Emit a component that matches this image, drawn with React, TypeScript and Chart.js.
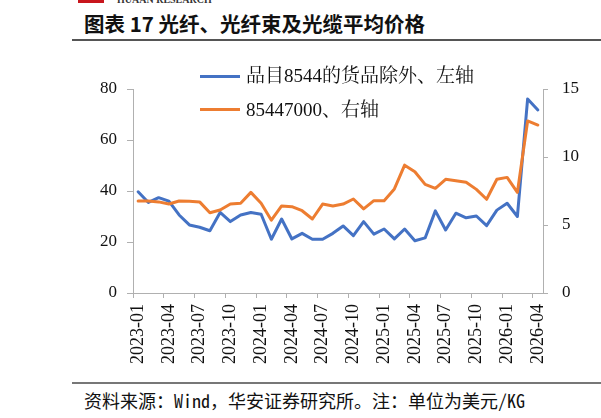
import React, { useEffect, useRef } from "react";
import { Chart, registerables } from "chart.js";

Chart.register(...registerables);

// Monthly categories
const months = [
  "2023-01", "2023-02", "2023-03", "2023-04", "2023-05", "2023-06", "2023-07", "2023-08",
  "2023-09", "2023-10", "2023-11", "2023-12", "2024-01", "2024-02", "2024-03", "2024-04",
  "2024-05", "2024-06", "2024-07", "2024-08", "2024-09", "2024-10", "2024-11", "2024-12",
  "2025-01", "2025-02", "2025-03", "2025-04", "2025-05", "2025-06", "2025-07", "2025-08",
  "2025-09", "2025-10", "2025-11", "2025-12", "2026-01", "2026-02", "2026-03", "2026-04",
];

// 品目8544的货品除外 (left axis, USD/KG)
const excl8544 = [
  39.7, 35.5, 37.4, 36.0, 30.6, 26.7, 25.8, 24.4, 31.6, 28.0,
  30.6, 31.6, 30.9, 21.1, 29.0, 21.2, 23.4, 21.1, 21.1, 23.4,
  26.3, 22.5, 28.0, 23.1, 25.1, 21.2, 25.1, 20.5, 21.6, 32.2,
  24.7, 31.3, 29.5, 30.2, 26.4, 32.5, 35.2, 30.0, 76.1, 71.8,
];

// 85447000 (right axis, USD/KG)
const code85447000 = [
  6.76, 6.76, 6.70, 6.54, 6.76, 6.74, 6.70, 5.90, 6.10, 6.54,
  6.60, 7.40, 6.60, 5.35, 6.40, 6.35, 6.05, 5.44, 6.54, 6.40,
  6.54, 6.91, 6.18, 6.79, 6.79, 7.65, 9.40, 8.92, 7.99, 7.70,
  8.36, 8.26, 8.14, 7.62, 6.89, 8.36, 8.50, 7.40, 12.65, 12.35,
];

const leftTicks = [0, 20, 40, 60, 80];
const rightTicks = [0, 5, 10, 15];

const seriesNames = ["品目8544的货品除外、左轴", "85447000、右轴"];
const BLUE = "#4472C4";
const ORANGE = "#ED7D31";
const AXIS = "#b0b0b0";
const TICK_FONT = "'Liberation Serif', 'Times New Roman', serif";

export default function App() {
  const canvasRef = useRef<HTMLCanvasElement | null>(null);

  useEffect(() => {
    const canvas = canvasRef.current;
    if (!canvas) return;
    const chart = new Chart(canvas, {
      type: "line",
      data: {
        labels: months,
        datasets: [
          {
            label: seriesNames[0],
            data: excl8544,
            yAxisID: "yLeft",
            borderColor: BLUE,
            borderWidth: 3,
            pointRadius: 0,
            tension: 0,
            borderJoinStyle: "round",
            borderCapStyle: "round",
            order: 1,
          },
          {
            label: seriesNames[1],
            data: code85447000,
            yAxisID: "yRight",
            borderColor: ORANGE,
            borderWidth: 3,
            pointRadius: 0,
            tension: 0,
            borderJoinStyle: "round",
            borderCapStyle: "round",
            order: 0,
          },
        ],
      },
      options: {
        responsive: false,
        animation: false,
        devicePixelRatio: 1,
        layout: { padding: { top: 29, left: 0, right: 0, bottom: 0 } },
        plugins: { legend: { display: false }, tooltip: { enabled: false } },
        scales: {
          x: {
            type: "category",
            offset: true,
            afterFit: (s: any) => { s.height = 87; },
            border: { display: true, color: AXIS, width: 1 },
            grid: {
              offset: true,
              drawOnChartArea: false,
              drawTicks: true,
              tickLength: 5,
              color: (ctx: any) => (ctx.index % 3 === 0 ? AXIS : "rgba(0,0,0,0)"),
            },
            ticks: {
              autoSkip: false,
              minRotation: 90,
              maxRotation: 90,
              padding: 6,
              color: "#111",
              font: { family: TICK_FONT, size: 18 },
              callback: (_v: any, i: number) => (i % 3 === 0 ? months[i] : ""),
            },
          },
          yLeft: {
            position: "left",
            min: leftTicks[0],
            max: leftTicks[leftTicks.length - 1],
            afterFit: (s: any) => { s.width = 133; },
            border: { display: true, color: AXIS, width: 1 },
            grid: { drawOnChartArea: false, drawTicks: true, tickLength: 6, color: AXIS },
            ticks: {
              stepSize: leftTicks[1] - leftTicks[0],
              padding: 10,
              color: "#111",
              font: { family: TICK_FONT, size: 17 },
            },
          },
          yRight: {
            position: "right",
            min: rightTicks[0],
            max: rightTicks[rightTicks.length - 1],
            afterFit: (s: any) => { s.width = 58; },
            border: { display: true, color: AXIS, width: 1 },
            grid: { drawOnChartArea: false, drawTicks: true, tickLength: 5, color: AXIS },
            ticks: {
              stepSize: rightTicks[1] - rightTicks[0],
              padding: 14,
              color: "#111",
              font: { family: TICK_FONT, size: 17 },
            },
          },
        },
      },
    });
    return () => chart.destroy();
  }, []);

  const legendText: React.CSSProperties = {
    position: "absolute",
    left: 246,
    height: 24,
    lineHeight: "24px",
    fontSize: 19,
    fontFamily: "'Liberation Serif', 'Noto Serif CJK SC', 'Noto Sans CJK SC', serif",
    color: "#111",
    whiteSpace: "nowrap",
  };

  return (
    <div
      style={{
        position: "absolute",
        left: 0,
        top: 0,
        width: 601,
        height: 418,
        background: "#fff",
        overflow: "hidden",
      }}
    >
      {/* masthead remnant */}
      <div style={{ position: "absolute", left: 78, top: 0, width: 26, height: 3, background: "#c8161d" }} />
      <div
        style={{
          position: "absolute",
          left: 117,
          top: -5,
          fontSize: 10,
          lineHeight: "10px",
          fontWeight: 700,
          fontFamily: TICK_FONT,
          color: "#333",
          whiteSpace: "nowrap",
        }}
      >
        HUAAN RESEARCH
      </div>

      {/* title */}
      <div
        style={{
          position: "absolute",
          left: 84,
          top: 10,
          height: 26,
          lineHeight: "26px",
          fontSize: 20.5,
          fontWeight: 700,
          fontFamily: "'Noto Sans CJK SC', sans-serif",
          color: "#111",
          whiteSpace: "nowrap",
        }}
      >
        图表 17 光纤、光纤束及光缆平均价格
      </div>
      <div style={{ position: "absolute", left: 72, top: 39, width: 529, height: 1.5, background: "#555" }} />

      <canvas
        ref={canvasRef}
        width={601}
        height={320}
        style={{ position: "absolute", left: 0, top: 60, width: 601, height: 320 }}
      />

      {/* legend */}
      <div style={{ position: "absolute", left: 200, top: 75, width: 40, height: 3, background: BLUE }} />
      <div style={{ ...legendText, top: 64 }}>{seriesNames[0]}</div>
      <div style={{ position: "absolute", left: 200, top: 108, width: 40, height: 3, background: ORANGE }} />
      <div style={{ ...legendText, top: 98 }}>{seriesNames[1]}</div>

      {/* source note */}
      <div style={{ position: "absolute", left: 72, top: 382, width: 529, height: 2, background: "#777" }} />
      <div
        style={{
          position: "absolute",
          left: 84,
          top: 388,
          height: 24,
          lineHeight: "24px",
          fontSize: 18,
          fontFamily: "'Noto Sans Mono CJK SC', 'Noto Sans CJK SC', monospace",
          color: "#111",
          whiteSpace: "nowrap",
        }}
      >
        资料来源：Wind，华安证券研究所。注：单位为美元/KG
      </div>
    </div>
  );
}
